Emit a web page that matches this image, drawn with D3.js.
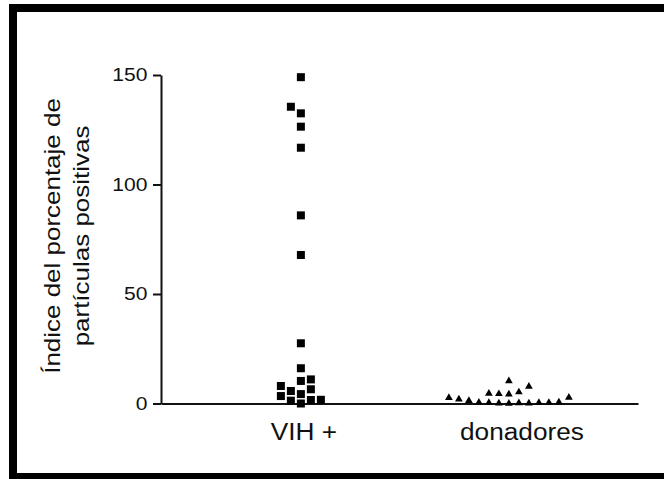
<!DOCTYPE html>
<html>
<head>
<meta charset="utf-8">
<script src="https://cdn.jsdelivr.net/npm/d3@7"></script>
<style>
  html, body { margin: 0; padding: 0; background: #fff; }
  svg { display: block; }
</style>
</head>
<body>
<svg id="chart" width="664" height="479"></svg>
<script>
// Groups and their observations (in order of entry)
const categories = ["VIH +", "donadores"];
const vihValues = [0, 1.3, 1.6, 3.4, 1.7, 4.3, 5.7, 6.5, 8.0, 10.3, 11.0, 16.1, 27.5,
                   67.8, 85.9, 116.8, 126.4, 132.5, 135.5, 149];
const donorValues = [0.0, 0.1, 0.2, 0.3, 0.1, 0.5, 0.3, 1.3, 0.4, 1.9, 0.6, 2.6, 2.7,
                     4.2, 4.4, 5.2, 4.6, 10.3, 7.8];
const yTicks = [0, 50, 100, 150];
const yTitleLines = ["Índice del porcentaje de", "partículas positivas"];

const svg = d3.select("#chart");
const W = 664, H = 479;
const plot = { left: 161, right: 638, top: 75, bottom: 403.5 };
const ink = "#111";
const fontFamily = "'Liberation Sans', Arial, sans-serif";

// Frame around the figure
svg.append("rect")
  .attr("x", 13).attr("y", 8)
  .attr("width", 680).attr("height", 469)
  .attr("fill", "none").attr("stroke", "#000").attr("stroke-width", 8);

const y = d3.scaleLinear().domain([0, 150]).range([plot.bottom, plot.top]);

// category centre for the scatter columns
const xMarks = d3.scalePoint().domain(categories)
  .range([plot.left, plot.right]).padding(0.6466).align(0.52);
// category label positions along the bottom axis
const xLabels = d3.scalePoint().domain(categories)
  .range([plot.left, plot.right]).padding(0.594).align(0.55);

// Widen text slightly, as in the original figure typesetting
function widen(sel, factor) {
  sel.each(function () {
    const w = this.getComputedTextLength();
    d3.select(this).attr("textLength", w * factor).attr("lengthAdjust", "spacingAndGlyphs");
  });
}

// Y axis
const yAxis = svg.append("g")
  .attr("transform", `translate(${plot.left},0)`)
  .call(d3.axisLeft(y).tickValues(yTicks).tickSize(8).tickSizeOuter(0).tickPadding(5.5));
yAxis.attr("color", ink);
yAxis.selectAll("path, line").attr("stroke-width", 2);
yAxis.selectAll("text")
  .attr("font-family", fontFamily).attr("font-size", 18).attr("fill", ink)
  .call(widen, 1.17);

// X axis (baseline with group names)
const xAxis = svg.append("g")
  .attr("transform", `translate(0,${plot.bottom})`)
  .call(d3.axisBottom(xLabels).tickSize(0).tickSizeOuter(0).tickPadding(20));
xAxis.attr("color", ink);
xAxis.selectAll("path").attr("stroke-width", 2);
xAxis.selectAll("text")
  .attr("font-family", fontFamily).attr("font-size", 23).attr("fill", ink)
  .call(widen, 1.14);

// Y title, two lines, rotated
const titleBaselines = [60, 89];
yTitleLines.forEach((line, i) => {
  svg.append("text")
    .attr("transform", `translate(${titleBaselines[i]},236) rotate(-90)`)
    .attr("text-anchor", "middle")
    .attr("font-family", fontFamily).attr("font-size", 22).attr("fill", ink)
    .text(line)
    .call(widen, 1.18);
});

// Column spreading: points that would overlap are moved into side columns,
// choosing the side that currently holds fewer points (left on a tie).
function spread(values, minGap) {
  const placed = [];
  let left = 0, right = 0;
  return values.map(v => {
    const py = y(v);
    const free = s => !placed.some(p => p.slot === s && Math.abs(p.py - py) < minGap);
    let slot = 0;
    if (!free(0)) {
      for (let d = 1; d < 50; d++) {
        const order = left <= right ? [-d, d] : [d, -d];
        const hit = order.find(free);
        if (hit !== undefined) { slot = hit; break; }
      }
    }
    if (slot < 0) left++; else if (slot > 0) right++;
    placed.push({ slot, py });
    return { v, slot };
  });
}

const columnStep = 10;
const minGap = 8.5;

const groups = [
  { cat: categories[0], values: vihValues, symbol: d3.symbolSquare, size: 64 },
  { cat: categories[1], values: donorValues, symbol: d3.symbolTriangle, size: 26 }
];

groups.forEach(g => {
  const pts = spread(g.values, minGap);
  const sym = d3.symbol().type(g.symbol).size(g.size);
  svg.append("g").selectAll("path")
    .data(pts)
    .join("path")
    .attr("d", sym)
    .attr("transform", d => `translate(${xMarks(g.cat) + d.slot * columnStep},${y(d.v)})`)
    .attr("fill", "#000");
});
</script>
</body>
</html>
